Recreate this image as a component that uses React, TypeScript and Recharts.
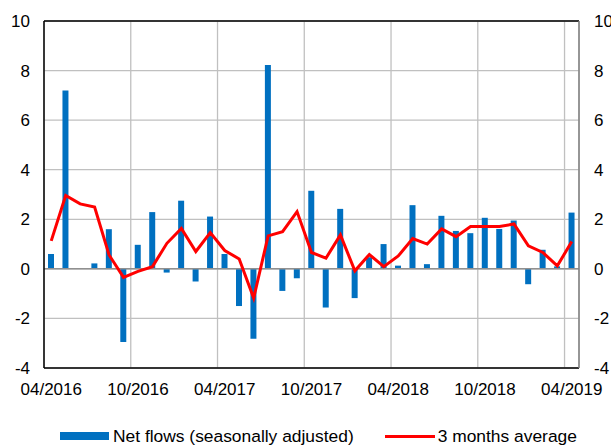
import React from "react";
import {
  ComposedChart,
  Bar,
  Line,
  XAxis,
  YAxis,
  CartesianGrid,
  ReferenceLine,
  Legend,
} from "recharts";

const months = [
  "04/2016", "05/2016", "06/2016", "07/2016", "08/2016", "09/2016",
  "10/2016", "11/2016", "12/2016", "01/2017", "02/2017", "03/2017",
  "04/2017", "05/2017", "06/2017", "07/2017", "08/2017", "09/2017",
  "10/2017", "11/2017", "12/2017", "01/2018", "02/2018", "03/2018",
  "04/2018", "05/2018", "06/2018", "07/2018", "08/2018", "09/2018",
  "10/2018", "11/2018", "12/2018", "01/2019", "02/2019", "03/2019",
  "04/2019",
];

const netFlows = [
  0.6, 7.2, 0, 0.22, 1.6, -2.95, 0.97, 2.29, -0.15, 2.75, -0.51, 2.11,
  0.6, -1.5, -2.82, 8.22, -0.89, -0.38, 3.15, -1.56, 2.42, -1.18, 0.47, 1.0,
  0.13, 2.57, 0.19, 2.14, 1.53, 1.44, 2.06, 1.61, 1.95, -0.62, 0.77, 0.1,
  2.27,
];

const avg3m = [
  1.13, 2.96, 2.62, 2.49, 0.56, -0.34, -0.1, 0.09, 1.03, 1.63, 0.7, 1.46,
  0.74, 0.4, -1.18, 1.33, 1.5, 2.31, 0.66, 0.43, 1.37, -0.08, 0.58, 0.09,
  0.52, 1.22, 1.0, 1.61, 1.3, 1.71, 1.71, 1.71, 1.81, 0.93, 0.66, 0.12,
  1.1,
];

const yTicks = [-4, -2, 0, 2, 4, 6, 8, 10];
const gridTicks = [0, 6, 12, 18, 24, 30, 36];

const data = months.map((m, i) => ({
  month: m,
  idx: i,
  net: netFlows[i],
  avg: avg3m[i],
}));

const FONT = "'Liberation Sans', Arial, sans-serif";

const renderLegend = () => (
  <div
    style={{
      height: 20,
      display: "flex",
      alignItems: "center",
      paddingLeft: 60,
      fontFamily: FONT,
      fontSize: 17.4,
      color: "#000",
      whiteSpace: "nowrap",
    }}
  >
    <span style={{ display: "inline-block", width: 49, height: 8, background: "#0070c0" }} />
    <span style={{ marginLeft: 4 }}>Net flows (seasonally adjusted)</span>
    <span
      style={{ display: "inline-block", width: 50, height: 3, background: "#ff0000", marginLeft: 31 }}
    />
    <span style={{ marginLeft: 3 }}>3 months average</span>
  </div>
);

export default function App() {
  return (
    <div style={{ position: "absolute", left: 0, top: 0, width: 611, height: 446, background: "#fff" }}>
      <ComposedChart
        width={611}
        height={446}
        data={data}
        margin={{ top: 21, right: 0, bottom: 0, left: 0 }}
        style={{ fontFamily: FONT }}
      >
        <CartesianGrid xAxisId="grid" yAxisId="left" stroke="#c0c0c0" strokeWidth={1.3} />
        <XAxis
          xAxisId="cat"
          dataKey="month"
          interval={5}
          tickLine={false}
          axisLine={{ stroke: "#000", strokeWidth: 1.5 }}
          height={58}
          tickSize={0}
          tickMargin={15}
          tick={{ fill: "#000", fontSize: 17 }}
        />
        <XAxis xAxisId="grid" dataKey="idx" type="number" domain={[0, 37]} ticks={gridTicks} hide />
        <YAxis
          yAxisId="left"
          domain={[-4, 10]}
          ticks={yTicks}
          width={44}
          tickLine={false}
          tickSize={0}
          tickMargin={14}
          axisLine={{ stroke: "#000", strokeWidth: 1.5 }}
          tick={{ fill: "#000", fontSize: 17 }}
        />
        <YAxis
          yAxisId="right"
          orientation="right"
          domain={[-4, 10]}
          ticks={yTicks}
          width={32}
          tickLine={false}
          tickSize={0}
          tickMargin={15}
          axisLine={{ stroke: "#808080", strokeWidth: 1.5 }}
          tick={{ fill: "#000", fontSize: 17 }}
        />
        <ReferenceLine xAxisId="cat" yAxisId="left" y={10} stroke="#000" strokeWidth={1.5} />
        <ReferenceLine xAxisId="cat" yAxisId="left" y={0} stroke="#909090" strokeWidth={1.5} />
        <Bar xAxisId="cat" yAxisId="left" dataKey="net" fill="#0070c0" barSize={6} isAnimationActive={false} />
        <Line
          xAxisId="cat"
          yAxisId="right"
          dataKey="avg"
          type="linear"
          stroke="#ff0000"
          strokeWidth={3}
          dot={false}
          isAnimationActive={false}
        />
        <Legend verticalAlign="bottom" content={renderLegend} />
      </ComposedChart>
    </div>
  );
}
